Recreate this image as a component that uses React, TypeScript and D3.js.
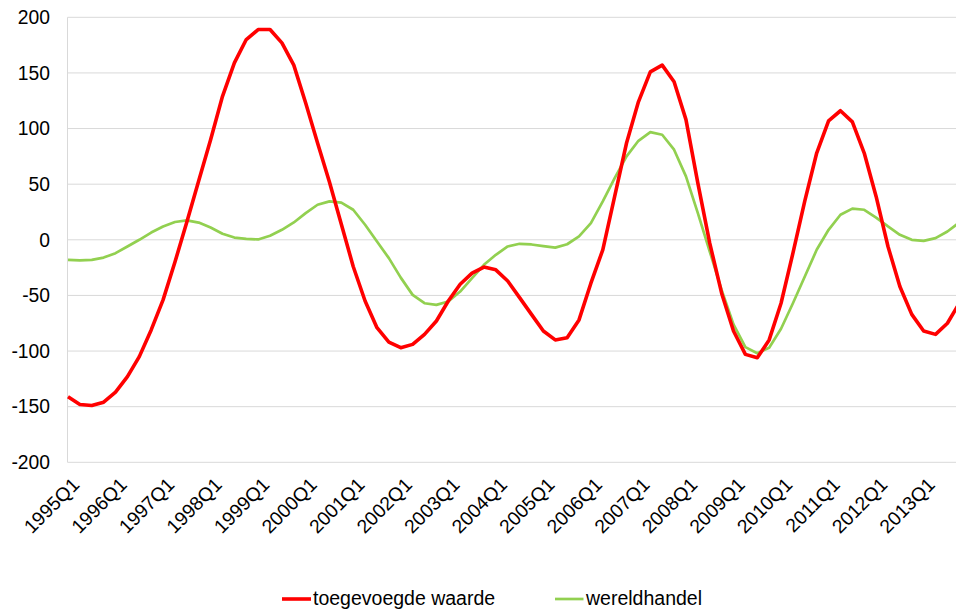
import React from "react";
import * as d3 from "d3";

const years = d3.range(1995, 2014);
const quarters = years.flatMap((y) => ["Q1", "Q2", "Q3", "Q4"].map((q) => `${y}${q}`));

const tickLabels = [
  "1995Q1", "1996Q1", "1997Q1", "1998Q1", "1999Q1", "2000Q1", "2001Q1",
  "2002Q1", "2003Q1", "2004Q1", "2005Q1", "2006Q1", "2007Q1", "2008Q1",
  "2009Q1", "2010Q1", "2011Q1", "2012Q1", "2013Q1",
];

const yTicks = [200, 150, 100, 50, 0, -50, -100, -150, -200];

const toegevoegdeWaarde = [
  -141, -148, -149, -146, -137, -123, -105, -81, -54, -20,
  16, 53, 90, 129, 159, 180, 189, 189, 177, 157,
  123, 87, 52, 14, -24, -55, -79, -92, -97, -94,
  -85, -73, -55, -40, -30, -24.5, -27, -37, -52, -67,
  -82, -90, -88, -72, -39, -9, 39, 87, 124, 151,
  157, 142, 108, 51, -3, -48, -82, -103, -106, -90,
  -57, -12, 35, 78, 107, 116, 106, 78, 39, -6,
  -42, -67, -82, -85, -75, -57,
];

const wereldhandel = [
  -18, -18.5, -18, -16, -12, -6, 0, 6.5, 12, 16,
  17.5, 15.5, 11, 5.5, 2, 0.8, 0.3, 3.6, 9, 15.6,
  24, 31.5, 34.5, 33.5, 27, 13.5, -1.5, -16.5, -34, -49.5,
  -57, -58.5, -55.5, -46.5, -34.5, -22.5, -13.5, -6, -3.6, -4.2,
  -5.7, -7, -4, 3, 15, 34.5, 55.5, 75, 89, 96.8,
  94.4, 81, 57, 24, -10.5, -45, -76, -96.5, -102, -97,
  -80, -57, -33, -9, 9, 22.5, 28, 27, 20, 12,
  4.5, 0, -1, 1.5, 7.5, 15.5,
];

const seriesNames = ["toegevoegde waarde", "wereldhandel"];
const seriesColors = ["#ff0000", "#92d050"];

const W = 956;
const H = 609;
const FONT = "'Liberation Sans', Arial, sans-serif";

export default function App() {
  const x = d3
    .scaleLinear()
    .domain([0, quarters.length - 1])
    .range([68, 68 + 11.884 * (quarters.length - 1)]);
  const y = d3.scaleLinear().domain([-200, 200]).range([462.3, 17.3]);

  const line = d3
    .line<number>()
    .x((_, i) => x(i))
    .y((d) => y(d));

  const xRight = W;

  return (
    <svg
      width={W}
      height={H}
      style={{ position: "absolute", left: 0, top: 0, background: "#fff" }}
      fontFamily={FONT}
    >
      {yTicks.map((t) => (
        <g key={t}>
          <line x1={x(0) - 0.5} x2={xRight} y1={y(t)} y2={y(t)} stroke="#d9d9d9" strokeWidth={1} />
          <text x={50} y={y(t) + 6.8} textAnchor="end" fontSize={19.3} fill="#000">
            {t}
          </text>
        </g>
      ))}
      <line x1={x(0) - 0.5} x2={x(0) - 0.5} y1={y(200)} y2={y(-200)} stroke="#d9d9d9" strokeWidth={1} />

      {tickLabels.map((lab) => {
        const i = quarters.indexOf(lab);
        const px = x(i) + 12.5;
        const py = 486;
        return (
          <text
            key={lab}
            transform={`translate(${px},${py}) rotate(-45)`}
            textAnchor="end"
            fontSize={19.3}
            fill="#000"
          >
            {lab}
          </text>
        );
      })}

      <path d={line(wereldhandel) || ""} fill="none" stroke={seriesColors[1]} strokeWidth={2.7} strokeLinejoin="round" />
      <path d={line(toegevoegdeWaarde) || ""} fill="none" stroke={seriesColors[0]} strokeWidth={3.6} strokeLinejoin="round" />

      <g>
        <line x1={282} x2={311} y1={599} y2={599} stroke={seriesColors[0]} strokeWidth={3.6} />
        <text x={313} y={604.5} fontSize={19.5} fill="#000">
          {seriesNames[0]}
        </text>
        <line x1={555} x2={583.5} y1={599} y2={599} stroke={seriesColors[1]} strokeWidth={2.7} />
        <text x={586} y={604.5} fontSize={19.5} fill="#000">
          {seriesNames[1]}
        </text>
      </g>
    </svg>
  );
}
